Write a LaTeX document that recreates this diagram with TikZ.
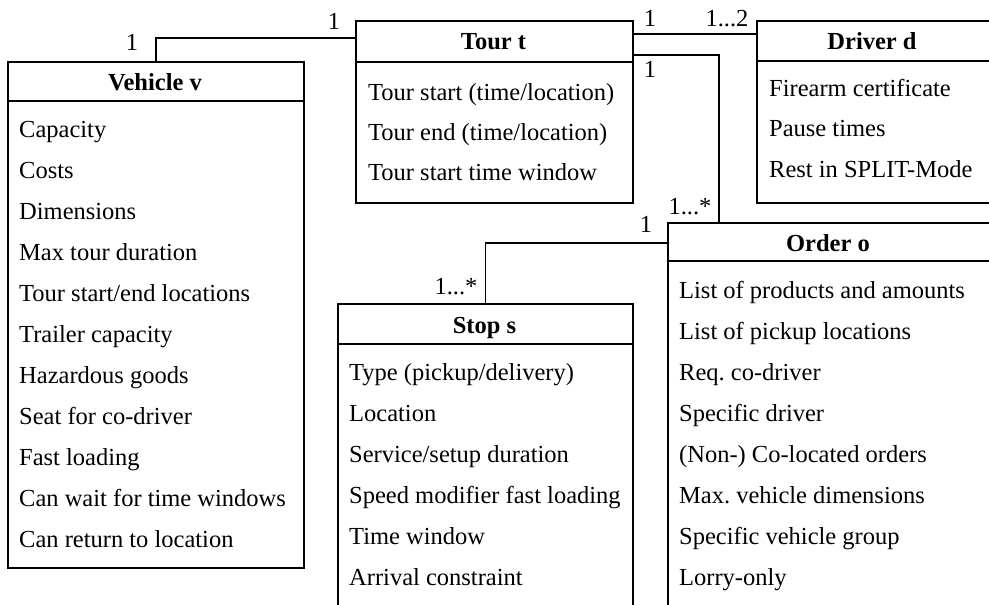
\documentclass[tikz,border=0pt]{standalone}
\usepackage{fontspec}
\setmainfont{Liberation Serif}
\frenchspacing
\begin{document}
\begin{tikzpicture}[x=1pt,y=-1pt,
  box/.style={draw,line width=1.6pt,inner sep=0pt,anchor=north west},
  sep/.style={line width=1.6pt},
  link/.style={line width=1.6pt},
  hdr/.style={anchor=base,inner sep=0pt,font=\fontsize{24.5}{28}\selectfont\bfseries},
  item/.style={anchor=base west,inner sep=0pt,font=\fontsize{24.5}{28}\selectfont},
  mult/.style={anchor=base,inner sep=0pt,font=\fontsize{24.5}{28}\selectfont}]
\useasboundingbox (0,0) rectangle (989,605);

% class boxes
\node[box,minimum width=296pt,minimum height=506pt] (veh) at (7,61) {};
\node[box,minimum width=277pt,minimum height=182pt] (tour) at (355,20) {};
\node[box,minimum width=260pt,minimum height=182pt] (drv) at (756,20) {};
\node[box,minimum width=340pt,minimum height=420pt] (ord) at (667,222) {};
\node[box,minimum width=295pt,minimum height=340pt] (stop) at (337,303) {};

% header separators
\draw[sep] ([yshift=-40pt]veh.north west) -- ([yshift=-40pt]veh.north east);
\draw[sep] ([yshift=-42pt]tour.north west) -- ([yshift=-42pt]tour.north east);
\draw[sep] ([yshift=-41pt]drv.north west) -- ([yshift=-41pt]drv.north east);
\draw[sep] ([yshift=-39pt]ord.north west) -- ([yshift=-39pt]ord.north east);
\draw[sep] ([yshift=-41pt]stop.north west) -- ([yshift=-41pt]stop.north east);

% headers
\node[hdr] (vehh) at (155,90) {Vehicle v};
\node[hdr] (tourh) at (493.5,49) {Tour t};
\node[hdr] (drvh) at (872,49) {Driver d};
\node[hdr] (ordh) at (828,251) {Order o};
\node[hdr] (stoph) at (484.5,333) {Stop s};

% attributes
\foreach \t [count=\i from 0] in {Capacity,Costs,Dimensions,Max tour duration,Tour start/end locations,Trailer capacity,Hazardous goods,Seat for co-driver,Fast loading,Can wait for time windows,Can return to location}
  \node[item] (v\i) at (19,137+41*\i) {\t};
\foreach \t [count=\i from 0] in {Tour start (time/location),Tour end (time/location),Tour start time window}
  \node[item] (t\i) at (368,100+40*\i) {\t};
\foreach \t [count=\i from 0] in {Firearm certificate,Pause times,Rest in SPLIT-Mode}
  \node[item] (d\i) at (769,96+40.5*\i) {\t};
\foreach \t [count=\i from 0] in {List of products and amounts,List of pickup locations,Req. co-driver,Specific driver,(Non-) Co-located orders,Max. vehicle dimensions,Specific vehicle group,Lorry-only}
  \node[item] (o\i) at (679,298+41*\i) {\t};
\foreach \t [count=\i from 0] in {Type (pickup/delivery),Location,Service/setup duration,Speed modifier fast loading,Time window,Arrival constraint}
  \node[item] (s\i) at (349,380+41*\i) {\t};

% associations
\draw[link] (veh.north) |- ([yshift=-18pt]tour.north west);
\draw[link] ([yshift=-14pt]tour.north east) -- ([yshift=-14pt]drv.north west);
\draw[link] ([yshift=-35pt]tour.north east) -| ([xshift=52pt]ord.north west);
\draw[link] ([yshift=-21pt]ord.north west) -| (stop.north);

% multiplicities
\node[mult] (m1) at (132,50) {1};
\node[mult] (m2) at (334,29) {1};
\node[mult] (m3) at (650,27) {1};
\node[mult] (m4) at (727,27) {1...2};
\node[mult] (m5) at (650,77) {1};
\node[mult] (m6) at (690,214) {1...*};
\node[mult] (m7) at (646,232) {1};
\node[mult] (m8) at (456,294) {1...*};
\end{tikzpicture}
\end{document}
